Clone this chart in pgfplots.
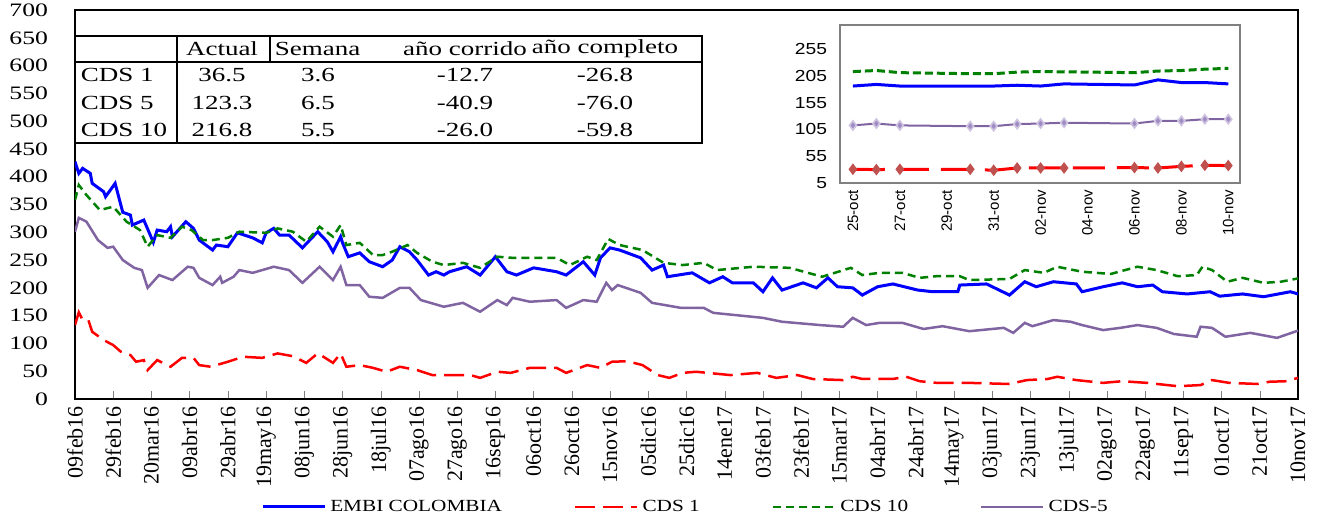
\documentclass[border=0pt]{standalone}
\usepackage{fontspec}
\setmainfont{Liberation Serif}[FakeStretch=1.35]
\newfontfamily\xfont{Liberation Serif}
\newfontfamily\legfont{Liberation Serif}[FakeStretch=1.25]
\newfontfamily\insetfont{Liberation Sans}[FakeStretch=1.2]
\newfontfamily\insetxfont{Liberation Sans}
\usepackage{pgfplots}
\pgfplotsset{compat=1.18}
\definecolor{embi}{HTML}{0000FF}
\definecolor{cdsone}{HTML}{FF0000}
\definecolor{cdsten}{HTML}{008000}
\definecolor{cdsfive}{HTML}{8064A2}
\definecolor{mkred}{HTML}{C0504D}
\definecolor{mkpur}{HTML}{A08CC4}
\begin{document}
\begin{tikzpicture}
\begin{axis}[name=main, at={(0,0)}, anchor=south west,
  scale only axis, width=611.5pt, height=194.5pt,
  xmin=0, xmax=640, ymin=0, ymax=700,
  xtick={0,20,...,640},
  xticklabels={09feb16,29feb16,20mar16,09abr16,29abr16,19may16,08jun16,28jun16,18jul16,07ago16,27ago16,16sep16,06oct16,26oct16,15nov16,05dic16,25dic16,14ene17,03feb17,23feb17,15mar17,04abr17,24abr17,14may17,03jun17,23jun17,13jul17,02ago17,22ago17,11sep17,01oct17,21oct17,10nov17},
  ytick={0,50,...,700},
  xtick pos=left, tick align=inside, major tick length=4pt,
  ytick style={draw=none},
  /pgf/number format/assume math mode=true,
  yticklabel style={font=\fontsize{9.5}{10}\selectfont, xshift=-10pt},
  xticklabel style={rotate=90, anchor=east, font=\xfont\fontsize{11}{12}\selectfont},
  axis line style={line width=0.8pt},
  legend columns=4,
  legend style={draw=none, at={(0.5,-0.2775)}, anchor=center, font=\legfont\fontsize{8.5}{10}\selectfont,
    /tikz/every even column/.append style={column sep=34pt}},
  legend image code/.code={\draw[#1] (0pt,0pt) -- (31pt,0pt);},
]
\addplot[embi, line width=1.5pt] coordinates {
(0,427)(2,406)(4,415)(8,406)(9,388)(15,373)(16,364)(21,388)(25,336)(29,331)(30,313)(36,322)(41,282)(43,304)(48,301)(50,310)(51,292)(58,319)(62,307)(65,286)(72,268)(74,277)(80,274)(85,299)(93,290)(98,281)(100,299)(104,307)(107,295)(112,295)(119,272)(127,301)(132,283)(135,265)(139,292)(140,281)(143,256)(149,263)(154,247)(161,238)(166,250)(170,274)(175,265)(179,250)(185,223)(189,229)(193,223)(196,229)(205,238)(212,223)(220,256)(226,229)(231,223)(240,236)(252,229)(257,223)(266,247)(272,223)(275,254)(280,272)(285,268)(296,254)(302,232)(308,241)(310,220)(323,227)(332,209)(339,220)(344,209)(355,209)(360,193)(365,218)(370,196)(381,209)(388,200)(394,218)(399,202)(407,200)(412,187)(420,202)(428,207)(441,196)(449,193)(462,193)(463,205)(477,207)(489,187)(497,211)(503,202)(512,211)(524,207)(527,193)(538,202)(548,209)(556,202)(564,205)(569,193)(582,189)(594,193)(599,185)(611,189)(622,184)(636,193)(640,189)};
\addlegendentry{EMBI COLOMBIA}
\addplot[cdsone, line width=1.25pt, dash pattern=on 10pt off 4pt] coordinates {
(0,133)(2,156)(4,142)(7,142)(9,121)(15,106)(20,97)(24,85)(29,79)(32,67)(36,70)(38,52)(43,70)(50,58)(56,74)(62,74)(65,61)(71,58)(80,67)(88,76)(98,74)(106,82)(114,77)(121,65)(127,82)(130,76)(135,65)(139,82)(142,58)(149,61)(156,56)(163,49)(170,58)(179,52)(187,43)(195,43)(207,43)(212,38)(221,49)(228,47)(238,56)(252,56)(257,47)(268,61)(275,56)(281,67)(289,68)(297,61)(305,43)(311,38)(318,47)(325,49)(343,43)(357,47)(367,38)(378,43)(386,36)(402,34)(407,40)(412,36)(421,36)(428,36)(435,40)(442,32)(451,29)(468,29)(489,27)(498,34)(509,36)(514,40)(524,34)(538,29)(548,32)(561,29)(577,23)(589,25)(595,34)(604,29)(619,27)(625,31)(634,32)(640,38)};
\addlegendentry{CDS 1}
\addplot[cdsten, line width=1.25pt, dash pattern=on 4pt off 2.5pt] coordinates {
(0,358)(2,385)(6,367)(13,340)(20,346)(27,319)(34,304)(38,274)(43,295)(50,290)(56,310)(61,304)(67,286)(72,286)(80,290)(86,301)(100,299)(106,307)(114,301)(121,283)(128,310)(135,292)(139,313)(142,277)(149,281)(156,259)(161,259)(166,265)(174,277)(179,263)(187,247)(193,241)(203,245)(212,236)(221,256)(229,254)(238,254)(252,254)(259,241)(268,256)(273,250)(279,288)(285,277)(297,268)(308,245)(318,241)(329,245)(336,232)(355,238)(374,236)(391,220)(406,236)(412,223)(421,227)(433,227)(442,218)(451,221)(463,221)(468,214)(489,216)(497,232)(507,227)(514,238)(527,229)(542,225)(556,238)(566,232)(577,221)(587,223)(590,238)(595,232)(603,211)(611,218)(622,209)(631,211)(640,217)};
\addlegendentry{CDS 10}
\addplot[cdsfive, line width=1.25pt] coordinates {
(0,301)(2,326)(6,319)(12,286)(17,272)(20,274)(25,250)(31,236)(35,232)(38,200)(44,223)(51,214)(59,238)(62,236)(65,218)(72,205)(76,220)(77,209)(83,220)(86,232)(93,227)(104,238)(112,232)(119,209)(128,238)(135,214)(139,238)(142,205)(149,205)(154,184)(161,182)(170,200)(175,200)(181,178)(186,173)(193,166)(203,173)(212,157)(221,178)(226,169)(229,182)(238,175)(252,178)(257,164)(266,178)(273,175)(278,209)(281,196)(284,205)(296,191)(302,173)(317,164)(329,164)(334,155)(360,146)(370,139)(390,133)(402,130)(407,146)(414,133)(421,137)(433,137)(444,126)(454,131)(468,122)(486,128)(491,119)(497,137)(501,131)(512,142)(521,139)(527,133)(538,124)(547,128)(556,133)(566,128)(575,117)(587,112)(589,130)(595,128)(602,112)(615,119)(629,110)(640,123)};
\addlegendentry{CDS-5}
\end{axis}
\begin{scope}[shift={(main.north west)}, x=0.5pt, y=-0.5pt, line width=0.8pt, font=\fontsize{10}{12}\selectfont]
\draw (0,26) rectangle (627,133);
\draw (0,52) -- (627,52);
\draw (102,26) -- (102,133);
\draw (195,26) -- (195,52);
\node at (147,39) {Actual};
\node[anchor=west, inner sep=1pt] at (197,39) {Semana};
\node at (390,39) {año corrido};
\node at (530,39) {año completo};
\node[anchor=west, inner sep=1pt] at (3,65) {CDS 1};
\node[anchor=west, inner sep=1pt] at (3,93) {CDS 5};
\node[anchor=west, inner sep=1pt] at (3,120) {CDS 10};
\node at (147,65) {36.5};  \node at (243,65) {3.6}; \node at (390,65) {-12.7}; \node at (530,65) {-26.8};
\node at (147,93) {123.3}; \node at (243,93) {6.5}; \node at (390,93) {-40.9}; \node at (530,93) {-76.0};
\node at (147,120) {216.8}; \node at (243,120) {5.5}; \node at (390,120) {-26.0}; \node at (530,120) {-59.8};
\end{scope}
\coordinate (insetpos) at ([xshift=382.5pt,yshift=108pt]main.south west);
\begin{axis}[name=inset, at={(insetpos)}, anchor=south west,
  scale only axis, width=200pt, height=79pt,
  xmin=-0.55, xmax=16.5, ymin=5, ymax=300,
  ytick={5,55,105,155,205,255},
  xtick={0,2,...,16},
  xticklabels={25-oct,27-oct,29-oct,31-oct,02-nov,04-nov,06-nov,08-nov,10-nov},
  major tick length=0pt,
  axis line style={draw=gray, line width=0.6pt},
  /pgf/number format/assume math mode=true,
  xticklabel style={rotate=90, anchor=east, font=\insetxfont\fontsize{7.5}{8}\selectfont},
  yticklabel style={font=\insetfont\fontsize{8}{9}\selectfont, xshift=-3pt},
]
\addplot[cdsten, line width=1.5pt, dash pattern=on 4pt off 2pt] coordinates {
(0,213)(1,215)(2,211)(5,209)(6,209)(7,212)(8,213)(9,212.5)(12,211)(13,214)(14,215)(15,217.5)(16,219)};
\addplot[embi, line width=1.5pt] coordinates {
(0,186)(1,189)(2,186)(5,186)(6,186)(7,187.5)(8,186)(9,190)(12,188)(13,197.5)(14,192.5)(15,192.5)(16,190)};
\addplot[cdsfive, line width=1pt, mark=diamond*, mark size=2.3pt, mark options={solid, fill=mkpur, draw=mkpur!50, line width=0.8pt}] coordinates {
(0,112.5)(1,116)(2,112.5)(5,111)(6,111)(7,115)(8,116)(9,117.5)(12,116)(13,121)(14,121)(15,124)(16,124)};
\addplot[cdsone, line width=1.5pt, dash pattern=on 16pt off 6pt, mark=diamond*, mark size=1.7pt, mark options={solid, fill=mkred, draw=mkred}] coordinates {
(0,30.6)(1,30)(2,30.6)(5,30.6)(6,28.75)(7,33)(8,33)(9,33)(12,33.75)(13,33)(14,36)(15,38)(16,37.5)};
\end{axis}
\pgfresetboundingbox
\path[use as bounding box] ([xshift=-37.5pt,yshift=-60.5pt]main.south west) rectangle ([xshift=12pt,yshift=5pt]main.north east);
\end{tikzpicture}
\end{document}
